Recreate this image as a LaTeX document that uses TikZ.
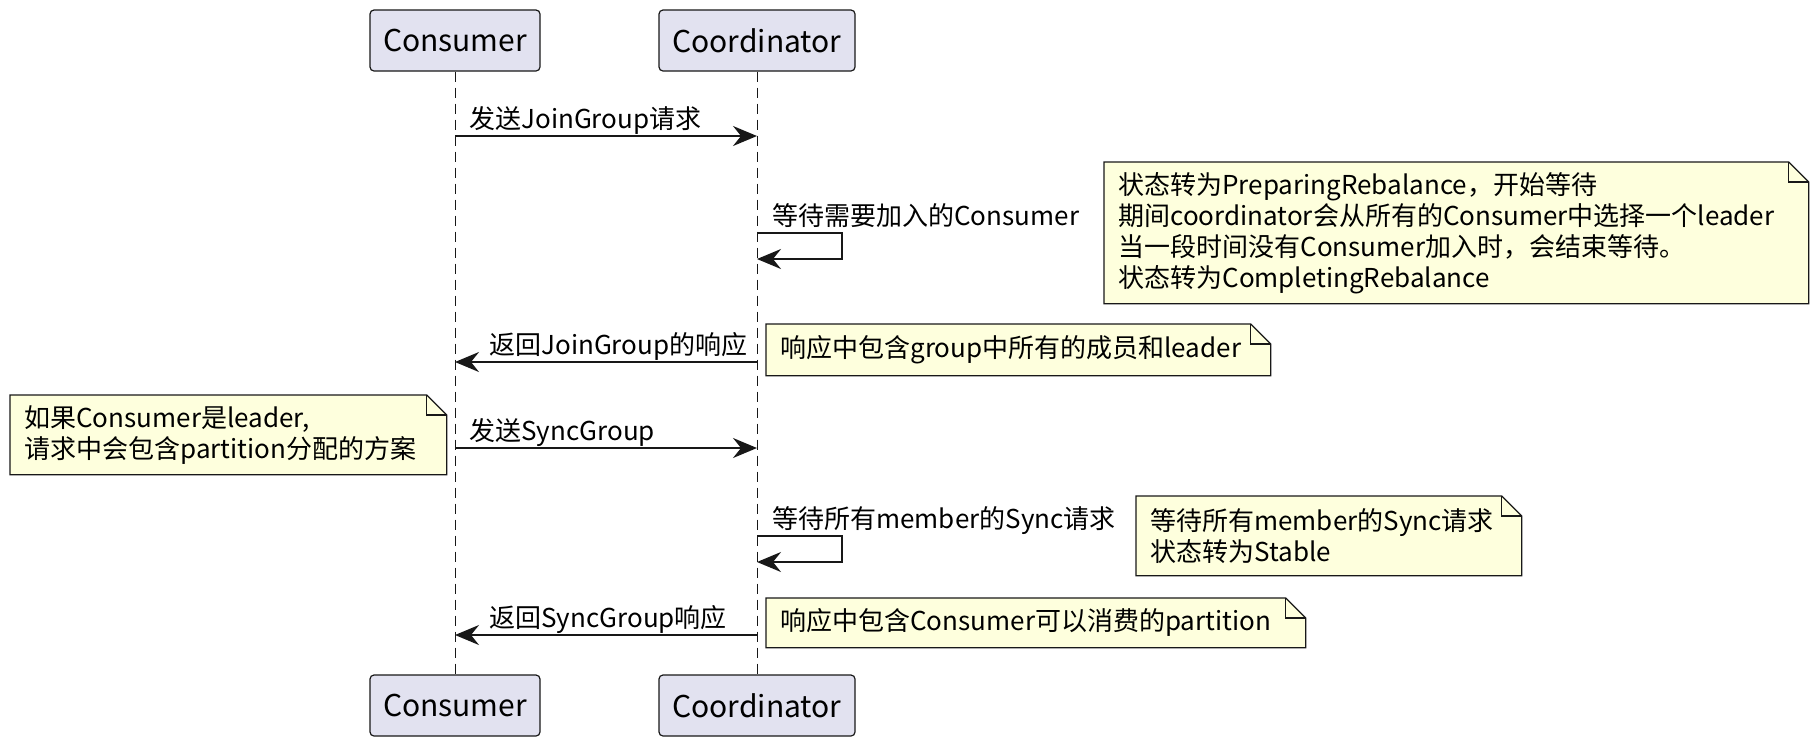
\documentclass[tikz,border=0pt]{standalone}
\usepackage{fontspec}
\setmainfont{Noto Sans CJK SC}
\usetikzlibrary{arrows.meta}
\definecolor{pbox}{RGB}{226,226,240}
\definecolor{pline}{RGB}{24,24,24}
\definecolor{nbox}{RGB}{254,255,221}
\newcommand\dogear[1]{%
\fill[white] ([xshift=-10pt]#1.north east) -- (#1.north east) -- ([yshift=-10pt]#1.north east) -- cycle;
\draw[noteedge] (#1.north west) -- ([xshift=-10pt]#1.north east) -- ([yshift=-10pt]#1.north east) -- (#1.south east) -- (#1.south west) -- cycle;
\draw[noteedge] ([xshift=-10pt]#1.north east) |- ([yshift=-10pt]#1.north east);}

\begin{document}
\begin{tikzpicture}[x=0.5pt,y=-0.5pt,
actor/.style={rectangle, draw=pline, fill=pbox, rounded corners=2pt, line width=0.6pt, minimum height=30.5pt, font=\fontsize{15}{18}\selectfont},
lifeline/.style={draw=pline, line width=0.5pt, dash pattern=on 5pt off 3pt},
msg/.style={draw=pline, line width=1pt, -{Stealth[length=12pt,width=10pt,inset=4pt]}},
msgtext/.style={anchor=base west, inner sep=0, font=\fontsize{13}{15.5}\selectfont},
notebox/.style={anchor=north west, fill=nbox, inner xsep=7pt, inner ysep=0, align=left, font=\fontsize{13}{15.5}\selectfont},
noteedge/.style={draw=pline, line width=0.6pt}]
\useasboundingbox (0,0) rectangle (1820,746);

% participants
\node[actor, minimum width=85pt] (cTop) at (455,40.5) {Consumer};
\node[actor, minimum width=98pt] (kTop) at (757,40.5) {Coordinator};
\node[actor, minimum width=85pt] (cBot) at (455,705.5) {Consumer};
\node[actor, minimum width=98pt] (kBot) at (757,705.5) {Coordinator};
\draw[lifeline] (cTop) -- (cBot);
\draw[lifeline] (kTop) -- (kBot);

% message ends on the lifelines
\coordinate (c1) at (455,136);
\coordinate (k1) at (757,136);
\coordinate (k2) at (757,233);
\coordinate (k2b) at (757,259);
\coordinate (k3) at (757,362);
\coordinate (c3) at (455,362);
\coordinate (c4) at (455,448);
\coordinate (k4) at (757,448);
\coordinate (k5) at (757,536);
\coordinate (k5b) at (757,562);
\coordinate (k6) at (757,635);
\coordinate (c6) at (455,635);

\draw[msg] (c1) -- (k1);
\draw[msg] (k2) -- ++(85,0) |- (k2b);
\draw[msg] (k3) -- (c3);
\draw[msg] (c4) -- (k4);
\draw[msg] (k5) -- ++(85,0) |- (k5b);
\draw[msg] (k6) -- (c6);

\node[msgtext] (t1) at (469,128) {发送JoinGroup请求};
\node[msgtext] (t2) at (772,225) {等待需要加入的Consumer};
\node[msgtext] (t3) at (489,354) {返回JoinGroup的响应};
\node[msgtext] (t4) at (469,440) {发送SyncGroup};
\node[msgtext] (t5) at (772,528) {等待所有member的Sync请求};
\node[msgtext] (t6) at (489,627) {返回SyncGroup响应};

% notes
\node[notebox, text width=338pt, minimum height=70.5pt] (nA) at (1104,162) {状态转为PreparingRebalance，开始等待\\期间coordinator会从所有的Consumer中选择一个leader\\当一段时间没有Consumer加入时，会结束等待。\\状态转为CompletingRebalance};
\dogear{nA}
\node[notebox, text width=238pt, minimum height=25.5pt] (nB) at (766,324) {响应中包含group中所有的成员和leader};
\dogear{nB}
\node[notebox, text width=204pt, minimum height=39.5pt] (nC) at (10,395) {如果Consumer是leader,\\请求中会包含partition分配的方案};
\dogear{nC}
\node[notebox, text width=178.5pt, minimum height=39.5pt] (nD) at (1136,496) {等待所有member的Sync请求\\状态转为Stable};
\dogear{nD}
\node[notebox, text width=255.5pt, minimum height=24.5pt] (nE) at (766,598) {响应中包含Consumer可以消费的partition};
\dogear{nE}
\end{tikzpicture}
\end{document}
